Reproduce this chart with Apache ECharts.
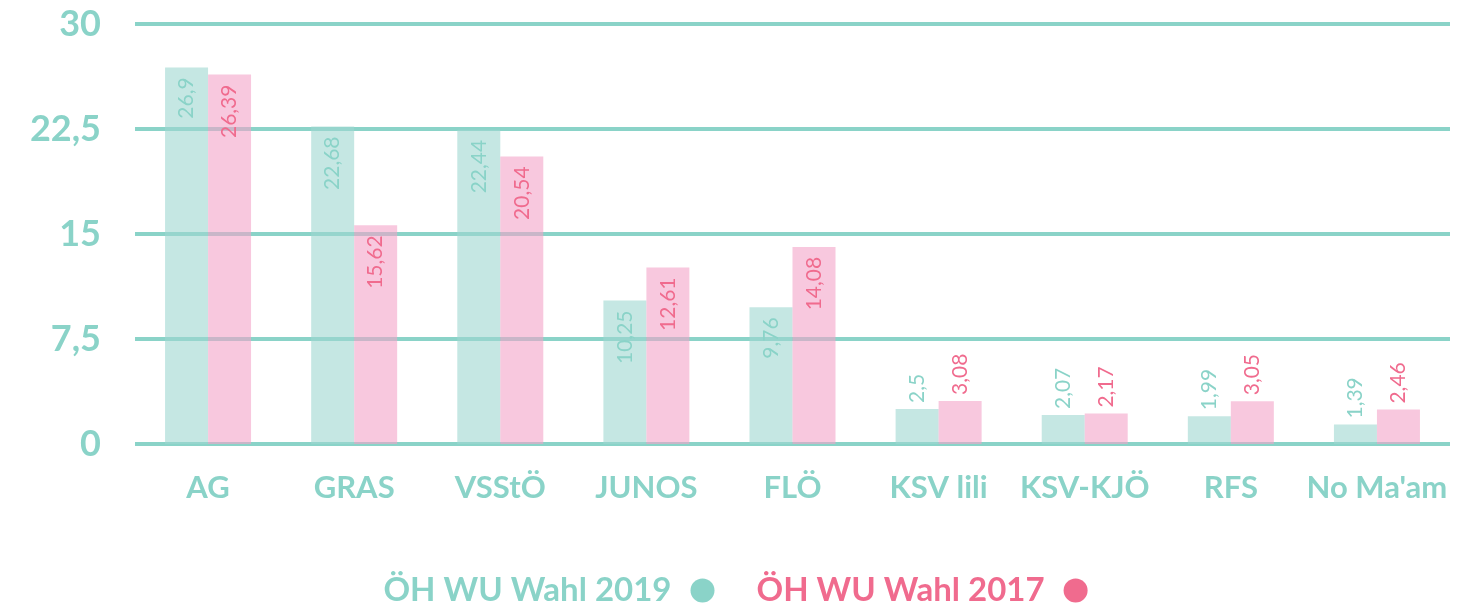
<!DOCTYPE html>
<html>
<head>
<meta charset="utf-8">
<script src="https://cdn.jsdelivr.net/npm/echarts@6/dist/echarts.min.js"></script>
<style>
  html, body { margin: 0; padding: 0; background: #fff; }
  #chart { width: 1471px; height: 612px; }
</style>
</head>
<body>
<div id="chart"></div>
<script>
// Parteien
const categories = ['AG', 'GRAS', 'VSStÖ', 'JUNOS', 'FLÖ', 'KSV lili', 'KSV-KJÖ', 'RFS', "No Ma'am"]
// Ergebnisse in %
const wahl2019 = [26.9, 22.68, 22.44, 10.25, 9.76, 2.5, 2.07, 1.99, 1.39]
const wahl2017 = [26.39, 15.62, 20.54, 12.61, 14.08, 3.08, 2.17, 3.05, 2.46]
const seriesNames = ['ÖH WU Wahl 2019', 'ÖH WU Wahl 2017']

const teal = '#8ad3c8'
const pink = '#f06b8e'
const fontFamily = 'Lato, "Open Sans", sans-serif'

const fmt = (v) => String(v).replace('.', ',')

// kleine Balken: Beschriftung oberhalb, sonst innen oben
const makeData = (values, color) => values.map(v => {
  const small = v < 5
  return {
    value: v,
    label: {
      show: true,
      position: small ? 'top' : 'insideTop',
      rotate: 90,
      align: small ? 'left' : 'right',
      verticalAlign: 'middle',
      distance: small ? 6 : 10,
      color: color,
      fontSize: 21,
      fontFamily: fontFamily,
      formatter: (p) => fmt(p.value)
    }
  }
})

const chart = echarts.init(document.getElementById('chart'))

const option = {
  animation: false,
  grid: {
    left: 135,
    right: 21,
    top: 24,
    bottom: 168
  },
  legend: {
    bottom: 0,
    left: 'center',
    align: 'right',
    itemGap: 42,
    itemWidth: 24,
    itemHeight: 24,
    icon: 'circle',
    data: [
      { name: seriesNames[0], itemStyle: { color: teal }, textStyle: { color: teal } },
      { name: seriesNames[1], itemStyle: { color: pink }, textStyle: { color: pink } }
    ],
    textStyle: {
      fontSize: 33,
      fontWeight: 'bold',
      fontFamily: fontFamily,
      padding: [0, 14, 0, 0]
    }
  },
  xAxis: {
    type: 'category',
    data: categories,
    axisLine: { show: false },
    axisTick: { show: false },
    axisLabel: {
      interval: 0,
      color: teal,
      fontSize: 31,
      fontWeight: 'bold',
      fontFamily: fontFamily,
      margin: 28
    }
  },
  yAxis: {
    type: 'value',
    min: 0,
    max: 30,
    interval: 7.5,
    axisLine: { show: false },
    axisTick: { show: false },
    axisLabel: {
      color: teal,
      fontSize: 36,
      fontWeight: 'bold',
      fontFamily: fontFamily,
      margin: 34,
      formatter: (v) => fmt(v)
    },
    splitLine: {
      lineStyle: { color: teal, width: 4 }
    }
  },
  series: [
    {
      name: seriesNames[0],
      type: 'bar',
      barWidth: 43,
      barGap: '0%',
      itemStyle: { color: 'rgba(158, 215, 208, 0.6)' },
      data: makeData(wahl2019, teal)
    },
    {
      name: seriesNames[1],
      type: 'bar',
      barWidth: 43,
      barGap: '0%',
      itemStyle: { color: 'rgba(243, 163, 200, 0.6)' },
      data: makeData(wahl2017, pink)
    }
  ]
}

chart.setOption(option)
</script>
</body>
</html>
